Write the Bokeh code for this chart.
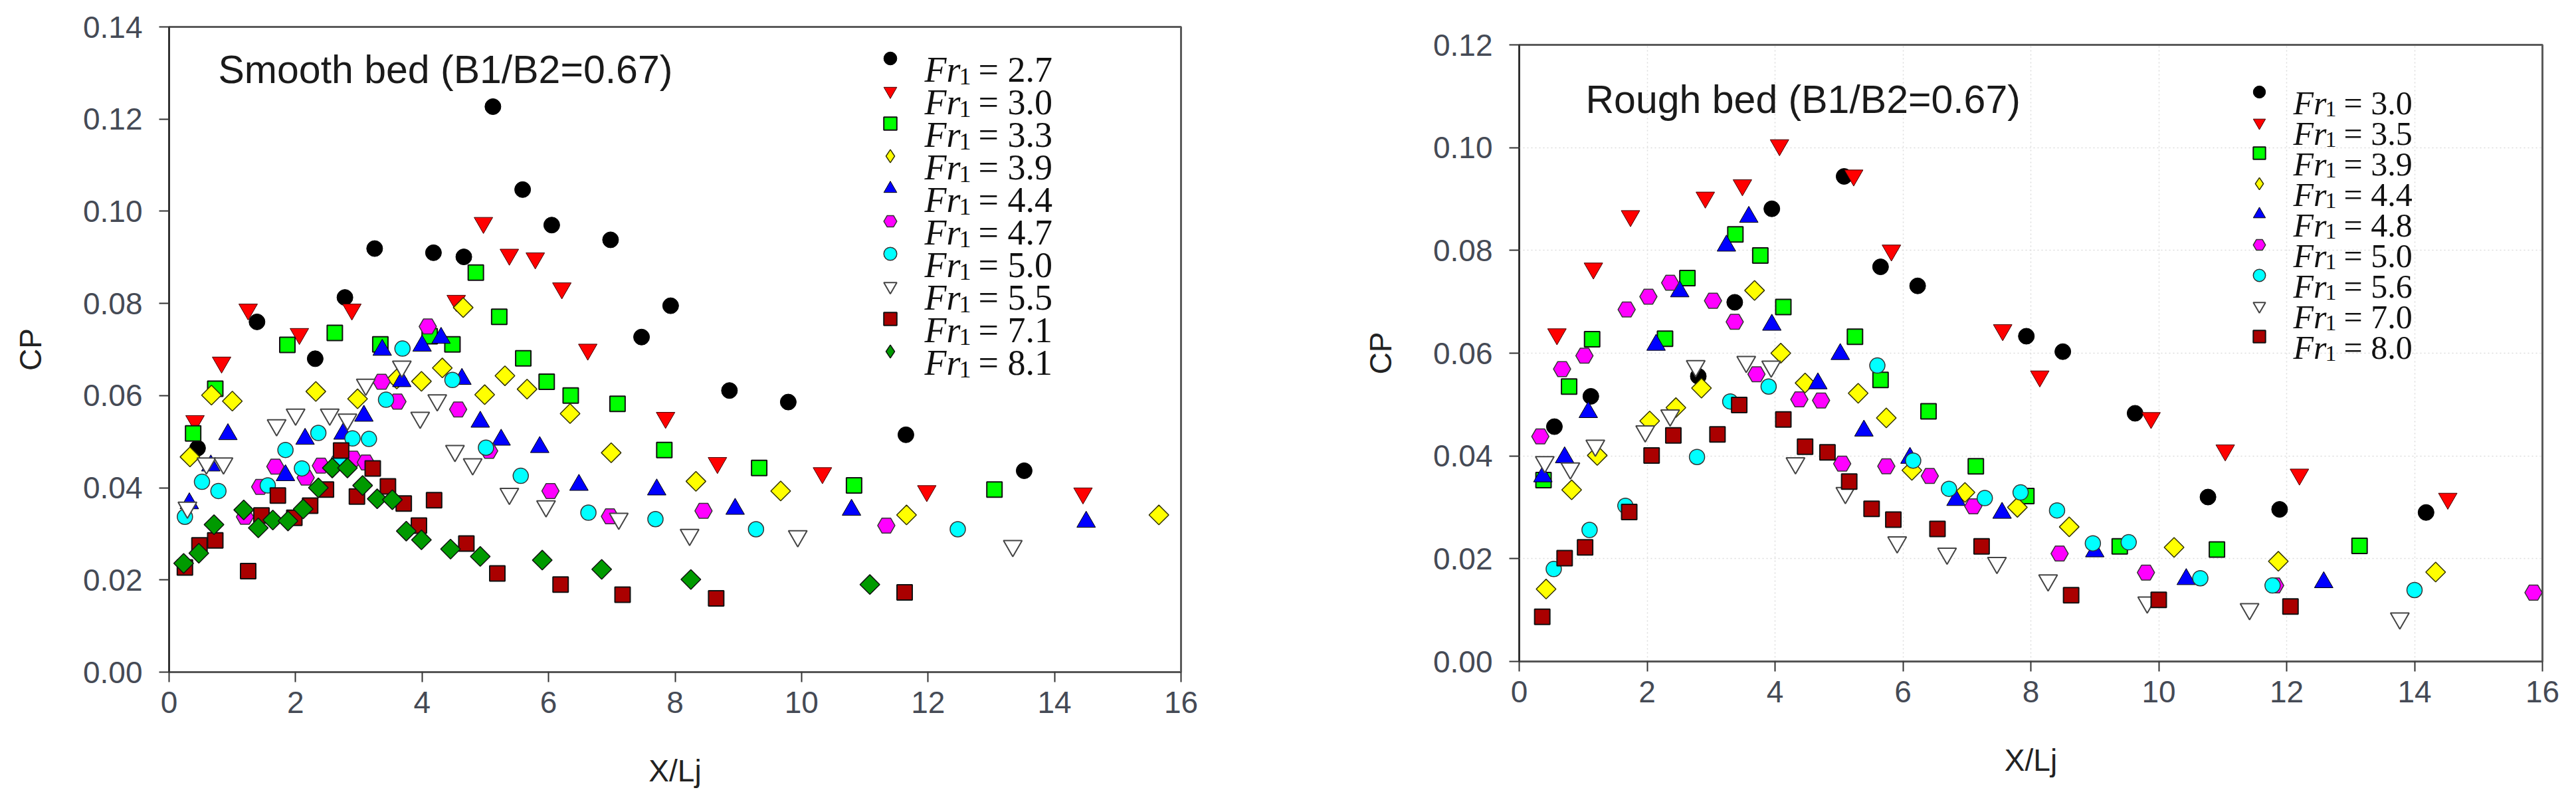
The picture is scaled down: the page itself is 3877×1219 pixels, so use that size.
import math
from bokeh.plotting import figure
from bokeh.layouts import row, column
from bokeh.models import (Range1d, FixedTicker, PrintfTickFormatter, Label, Legend, LegendItem)
from bokeh.embed import file_html
from bokeh.resources import INLINE
from bokeh.core.properties import value

# ---------------- data : smooth bed ----------------
x_ticks = [0, 2, 4, 6, 8, 10, 12, 14, 16]
sm_yticks = [0.00, 0.02, 0.04, 0.06, 0.08, 0.10, 0.12, 0.14]
rb_yticks = [0.00, 0.02, 0.04, 0.06, 0.08, 0.10, 0.12]

sm_fr = ["2.7", "3.0", "3.3", "3.9", "4.4", "4.7", "5.0", "5.5", "7.1", "8.1"]

sm27_x = [0.45, 1.39, 2.31, 2.78, 3.25, 4.18, 4.66, 5.12, 5.59, 6.05, 6.98, 7.47, 7.93, 8.86, 9.79, 11.65, 13.52]
sm27_y = [0.0486, 0.0760, 0.0680, 0.0813, 0.0919, 0.0910, 0.0901, 0.1227, 0.1047, 0.0970, 0.0938, 0.0727, 0.0795, 0.0611, 0.0586, 0.0515, 0.0437]
sm30_x = [0.41, 0.83, 1.25, 2.06, 2.89, 4.54, 4.97, 5.38, 5.79, 6.21, 6.62, 7.85, 8.67, 10.33, 11.98, 14.45]
sm30_y = [0.0545, 0.0672, 0.0787, 0.0734, 0.0787, 0.0806, 0.0975, 0.0906, 0.0898, 0.0833, 0.0700, 0.0552, 0.0454, 0.0432, 0.0393, 0.0388]
sm33_x = [0.38, 0.73, 1.87, 2.62, 3.34, 4.12, 4.48, 4.85, 5.22, 5.60, 5.97, 6.35, 7.09, 7.83, 9.33, 10.83, 13.05]
sm33_y = [0.0518, 0.0615, 0.0710, 0.0736, 0.0711, 0.0729, 0.0711, 0.0867, 0.0771, 0.0681, 0.0630, 0.0600, 0.0582, 0.0482, 0.0443, 0.0405, 0.0396]
sm39_x = [0.33, 0.67, 1.00, 2.32, 2.98, 3.60, 3.99, 4.32, 4.65, 4.99, 5.31, 5.66, 6.34, 6.99, 8.33, 9.67, 11.66, 15.65]
sm39_y = [0.0467, 0.0601, 0.0588, 0.0609, 0.0593, 0.0636, 0.0631, 0.0660, 0.0791, 0.0602, 0.0643, 0.0614, 0.0561, 0.0476, 0.0414, 0.0393, 0.0341, 0.0341]
sm44_x = [0.32, 0.66, 0.93, 1.84, 2.15, 2.75, 3.08, 3.37, 3.68, 4.00, 4.30, 4.63, 4.92, 5.25, 5.86, 6.48, 7.71, 8.95, 10.79, 14.50]
sm44_y = [0.0366, 0.0448, 0.0516, 0.0427, 0.0506, 0.0517, 0.0556, 0.0699, 0.0631, 0.0708, 0.0725, 0.0636, 0.0543, 0.0504, 0.0488, 0.0406, 0.0396, 0.0354, 0.0352, 0.0326]
sm47_x = [1.20, 1.44, 1.68, 2.16, 2.40, 2.91, 3.11, 3.36, 3.61, 4.09, 4.57, 5.06, 6.03, 6.97, 8.45, 11.34]
sm47_y = [0.0337, 0.0402, 0.0446, 0.0422, 0.0448, 0.0463, 0.0455, 0.0630, 0.0587, 0.0750, 0.0570, 0.0480, 0.0393, 0.0338, 0.0350, 0.0318]
sm50_x = [0.25, 0.52, 0.78, 1.56, 1.84, 2.10, 2.36, 2.68, 2.90, 3.16, 3.43, 3.69, 4.48, 5.01, 5.56, 6.63, 7.69, 9.28, 12.47]
sm50_y = [0.0337, 0.0413, 0.0393, 0.0405, 0.0482, 0.0442, 0.0519, 0.0458, 0.0507, 0.0506, 0.0591, 0.0702, 0.0634, 0.0487, 0.0426, 0.0346, 0.0332, 0.0310, 0.0310]
sm55_x = [0.29, 0.59, 0.86, 1.70, 2.00, 2.54, 2.82, 3.11, 3.68, 3.97, 4.24, 4.52, 4.80, 5.38, 5.96, 7.11, 8.23, 9.94, 13.34]
sm55_y = [0.0357, 0.0453, 0.0453, 0.0536, 0.0559, 0.0559, 0.0548, 0.0624, 0.0663, 0.0552, 0.0590, 0.0480, 0.0451, 0.0387, 0.0360, 0.0333, 0.0298, 0.0295, 0.0274]
sm71_x = [0.25, 0.48, 0.73, 1.25, 1.46, 1.72, 1.98, 2.23, 2.48, 2.72, 2.97, 3.22, 3.46, 3.71, 3.95, 4.19, 4.70, 5.19, 6.19, 7.17, 8.65, 11.63]
sm71_y = [0.0227, 0.0275, 0.0286, 0.0219, 0.0340, 0.0383, 0.0335, 0.0361, 0.0396, 0.0481, 0.0381, 0.0442, 0.0403, 0.0366, 0.0318, 0.0373, 0.0279, 0.0214, 0.0190, 0.0168, 0.0160, 0.0173]
sm81_x = [0.23, 0.47, 0.71, 1.18, 1.41, 1.64, 1.88, 2.12, 2.36, 2.58, 2.82, 3.06, 3.29, 3.53, 3.75, 3.99, 4.45, 4.92, 5.90, 6.84, 8.25, 11.08]
sm81_y = [0.0236, 0.0258, 0.0320, 0.0352, 0.0313, 0.0330, 0.0328, 0.0354, 0.0400, 0.0443, 0.0443, 0.0405, 0.0376, 0.0374, 0.0306, 0.0287, 0.0267, 0.0251, 0.0243, 0.0223, 0.0201, 0.0190]

# ---------------- data : rough bed ----------------
rb_fr = ["3.0", "3.5", "3.9", "4.4", "4.8", "5.0", "5.6", "7.0", "8.0"]

rb30_x = [0.55, 1.12, 2.80, 3.37, 3.95, 5.08, 5.65, 6.23, 7.93, 8.50, 9.63, 10.77, 11.89, 14.18]
rb30_y = [0.0457, 0.0516, 0.0555, 0.0699, 0.0881, 0.0944, 0.0768, 0.0731, 0.0633, 0.0603, 0.0483, 0.0320, 0.0296, 0.0290]
rb35_x = [0.59, 1.16, 1.74, 2.91, 3.49, 4.07, 5.23, 5.82, 7.56, 8.14, 9.88, 11.04, 12.20, 14.52]
rb35_y = [0.0637, 0.0765, 0.0867, 0.0903, 0.0927, 0.1005, 0.0946, 0.0800, 0.0645, 0.0555, 0.0474, 0.0411, 0.0364, 0.0317]
rb39_x = [0.38, 0.78, 1.14, 2.28, 2.63, 3.38, 3.77, 4.13, 5.25, 5.65, 6.40, 7.14, 7.93, 9.39, 10.91, 13.14]
rb39_y = [0.0353, 0.0535, 0.0627, 0.0628, 0.0746, 0.0831, 0.0790, 0.0690, 0.0632, 0.0548, 0.0487, 0.0380, 0.0322, 0.0224, 0.0218, 0.0225]
rb44_x = [0.42, 0.82, 1.22, 2.04, 2.45, 2.85, 3.68, 4.09, 4.47, 5.30, 5.74, 6.14, 6.97, 7.79, 8.60, 10.24, 11.87, 14.33]
rb44_y = [0.0141, 0.0334, 0.0401, 0.0468, 0.0494, 0.0532, 0.0722, 0.0600, 0.0542, 0.0522, 0.0474, 0.0372, 0.0329, 0.0300, 0.0262, 0.0222, 0.0195, 0.0174]
rb48_x = [0.37, 0.71, 1.08, 2.14, 2.51, 3.24, 3.59, 3.95, 4.67, 5.02, 5.39, 6.11, 6.83, 7.55, 9.00, 10.43, 12.58]
rb48_y = [0.0360, 0.0397, 0.0485, 0.0616, 0.0720, 0.0809, 0.0865, 0.0655, 0.0541, 0.0598, 0.0449, 0.0396, 0.0314, 0.0289, 0.0214, 0.0160, 0.0154]
rb50_x = [0.33, 0.67, 1.02, 1.68, 2.02, 2.36, 3.03, 3.37, 3.71, 4.38, 4.72, 5.05, 5.74, 6.42, 7.10, 8.45, 9.80, 11.82, 15.86]
rb50_y = [0.0438, 0.0569, 0.0595, 0.0685, 0.0710, 0.0737, 0.0702, 0.0661, 0.0559, 0.0510, 0.0508, 0.0385, 0.0380, 0.0361, 0.0302, 0.0210, 0.0173, 0.0148, 0.0134]
rb56_x = [0.54, 1.10, 1.66, 2.78, 3.30, 3.90, 5.60, 6.16, 6.72, 7.28, 7.84, 8.41, 8.97, 9.53, 10.65, 11.78, 14.00]
rb56_y = [0.0180, 0.0256, 0.0303, 0.0398, 0.0506, 0.0535, 0.0576, 0.0391, 0.0336, 0.0318, 0.0329, 0.0294, 0.0230, 0.0232, 0.0162, 0.0148, 0.0139]
rb70_x = [0.40, 0.80, 1.19, 1.97, 2.36, 2.76, 3.55, 3.94, 4.32, 5.10, 5.91, 6.69, 7.47, 8.27, 9.82, 11.42, 13.77]
rb70_y = [0.0388, 0.0376, 0.0420, 0.0448, 0.0479, 0.0575, 0.0583, 0.0574, 0.0386, 0.0328, 0.0232, 0.0210, 0.0192, 0.0158, 0.0115, 0.0102, 0.0084]
rb80_x = [0.36, 0.71, 1.03, 1.72, 2.07, 2.41, 3.10, 3.44, 4.13, 4.47, 4.82, 5.16, 5.51, 5.85, 6.54, 7.23, 8.63, 10.00, 12.06]
rb80_y = [0.0087, 0.0201, 0.0222, 0.0291, 0.0401, 0.0440, 0.0442, 0.0499, 0.0471, 0.0418, 0.0407, 0.0350, 0.0297, 0.0276, 0.0258, 0.0224, 0.0129, 0.0120, 0.0107]

sm_series = [(sm27_x, sm27_y), (sm30_x, sm30_y), (sm33_x, sm33_y), (sm39_x, sm39_y), (sm44_x, sm44_y),
             (sm47_x, sm47_y), (sm50_x, sm50_y), (sm55_x, sm55_y), (sm71_x, sm71_y), (sm81_x, sm81_y)]
rb_series = [(rb30_x, rb30_y), (rb35_x, rb35_y), (rb39_x, rb39_y), (rb44_x, rb44_y), (rb48_x, rb48_y),
             (rb50_x, rb50_y), (rb56_x, rb56_y), (rb70_x, rb70_y), (rb80_x, rb80_y)]

# ---------------- marker styles ----------------
S_BLACK = dict(marker="circle", fill="#000000", line="#000000", lw=1, size=24)
S_RED = dict(marker="inverted_triangle", fill="#FF0000", line="#400000", lw=1, size=28)
S_LIME = dict(marker="square", fill="#00FF00", line="#111111", lw=2, size=23)
S_YEL = dict(marker="diamond", fill="#FFFF00", line="#333300", lw=1.5, size=21)
S_BLUE = dict(marker="triangle", fill="#0000FF", line="#000000", lw=1, size=28)
S_MAG = dict(marker="hex", fill="#FF00FF", line="#333333", lw=1.5, size=26)
S_CYAN = dict(marker="circle", fill="#00FFFF", line="#333333", lw=1.5, size=23)
S_WHITE = dict(marker="inverted_triangle", fill="#FFFFFF", line="#444444", lw=2, size=28)
S_DRED = dict(marker="square", fill="#AA0000", line="#111111", lw=2, size=23)
S_GREEN = dict(marker="diamond", fill="#009A00", line="#111111", lw=1.5, size=21)

sm_styles = [S_BLACK, S_RED, S_LIME, S_YEL, S_BLUE, S_MAG, S_CYAN, S_WHITE, S_DRED, S_GREEN]
rb_styles = [S_BLACK, S_RED, S_LIME, S_YEL, S_BLUE, S_MAG, S_CYAN, S_WHITE, S_DRED]

FONT = "Liberation Sans"
SERIF = "Liberation Serif"


def make_fig(fw, fh, bl, br, bt, bb, ymax, yticks, grid):
    p = figure(frame_width=fw, frame_height=fh, x_range=Range1d(0, 16), y_range=Range1d(0, ymax),
               output_backend="svg", toolbar_location=None, title=None,
               min_border_left=bl, min_border_right=br, min_border_top=bt, min_border_bottom=bb)
    p.background_fill_color = "white"
    p.border_fill_color = "white"
    p.outline_line_color = "#5a5a5a"
    p.outline_line_width = 3
    p.xaxis.ticker = FixedTicker(ticks=x_ticks)
    p.yaxis.ticker = FixedTicker(ticks=yticks)
    p.yaxis.formatter = PrintfTickFormatter(format="%.2f")
    p.xaxis.formatter = PrintfTickFormatter(format="%d")
    for ax in (p.xaxis, p.yaxis):
        ax.major_label_text_font = FONT
        ax.major_label_text_font_size = "46px"
        ax.major_label_text_color = "#454a55"
        ax.axis_label_text_font = FONT
        ax.axis_label_text_font_size = "46px"
        ax.axis_label_text_font_style = "normal"
        ax.axis_label_text_color = "#222222"
        ax.major_tick_in = 0
        ax.major_tick_out = 15
        ax.major_tick_line_width = 2
        ax.major_tick_line_color = "#333333"
        ax.minor_tick_line_color = None
    p.xaxis.axis_line_width = 3
    p.xaxis.axis_line_color = "#555555"
    p.yaxis.axis_line_width = 2
    p.yaxis.axis_line_color = "#222222"
    p.xaxis.axis_label = "X/Lj"
    p.yaxis.axis_label = "CP"
    p.xaxis.major_label_standoff = 14
    p.yaxis.major_label_standoff = 25
    p.xaxis.axis_label_standoff = 58
    p.yaxis.axis_label_standoff = 50
    if grid:
        p.grid.grid_line_color = "#dcdcdc"
        p.grid.grid_line_dash = "2 4"
        p.grid.grid_line_width = 1.5
    else:
        p.grid.visible = False
    return p


def draw_series(p, series, styles):
    items = []
    for (xs, ys), st in zip(series, styles):
        if st["marker"] == "diamond":
            p.scatter(xs, ys, marker="square", angle=math.pi / 4, size=st["size"],
                      fill_color=st["fill"], line_color=st["line"], line_width=st["lw"])
            leg = p.scatter(xs, ys, marker="diamond", size=st["size"] * 1.5,
                            fill_color=st["fill"], line_color=st["line"], line_width=st["lw"], visible=False)
        else:
            leg = p.scatter(xs, ys, marker=st["marker"], size=st["size"],
                            fill_color=st["fill"], line_color=st["line"], line_width=st["lw"])
        items.append(LegendItem(label=value(" "), renderers=[leg]))
    return items


def add_text(p, frame, fr_list, mx, x_f, x_sub, x_eq, y0, pitch, fs, sub_fs, items, title, tx, ty, tfs):
    left, top, w, h, ymax = frame
    px2x = lambda X: (X - left) * 16.0 / w
    px2y = lambda Y: (top + h - Y) * ymax / h
    n = len(fr_list)
    gh = pitch
    legend = Legend(items=items, location=(mx - left - gh / 2.0, (top + h) - (y0 - gh / 2.0 + n * gh)),
                    orientation="vertical", glyph_width=gh, glyph_height=gh, label_height=gh,
                    label_width=0, label_standoff=0, label_text_font_size="1px", spacing=0,
                    padding=0, margin=0, border_line_color=None, background_fill_alpha=0)
    p.add_layout(legend)
    for i, fr in enumerate(fr_list):
        base = y0 + i * pitch + 0.33 * fs
        p.add_layout(Label(x=px2x(x_f), y=px2y(base), text="Fr", text_font=SERIF,
                           text_font_style="italic", text_font_size=f"{fs}px", text_color="#111111",
                           text_baseline="alphabetic", text_align="left"))
        p.add_layout(Label(x=px2x(x_sub), y=px2y(base + 0.17 * fs), text="1", text_font=SERIF,
                           text_font_size=f"{sub_fs}px", text_color="#111111",
                           text_baseline="alphabetic", text_align="left"))
        p.add_layout(Label(x=px2x(x_eq), y=px2y(base), text="= " + fr, text_font=SERIF,
                           text_font_size=f"{fs}px", text_color="#111111",
                           text_baseline="alphabetic", text_align="left"))
    p.add_layout(Label(x=px2x(tx), y=px2y(ty), text=title, text_font=FONT,
                       text_font_size=f"{tfs}px", text_color="#1a1a1a",
                       text_baseline="alphabetic", text_align="left"))


# left figure: frame 254..1777 x 40..1011 (page has no margin)
p1 = make_fig(1523, 971, 254, 213, 40, 195, 0.14, sm_yticks, grid=False)
it1 = draw_series(p1, sm_series, sm_styles)
add_text(p1, (254, 40, 1523, 971, 0.14), sm_fr, 1339, 1391, 1443, 1472, 87, 49, 54, 36, it1,
         "Smooth bed (B1/B2=0.67)", 328, 104, 59)

# right figure: frame 2286..3826 x 67..995
p2 = make_fig(1540, 928, 296, 43, 67, 210, 0.12, rb_yticks, grid=True)
it2 = draw_series(p2, rb_series, rb_styles)
add_text(p2, (2286, 67, 1540, 928, 0.12), rb_fr, 3400, 3451, 3499, 3527, 138, 46, 50, 34, it2,
         "Rough bed (B1/B2=0.67)", 2386, 149, 59)

layout = row(column(p1), column(p2))
open("out.html", "w").write(file_html(layout, INLINE))
